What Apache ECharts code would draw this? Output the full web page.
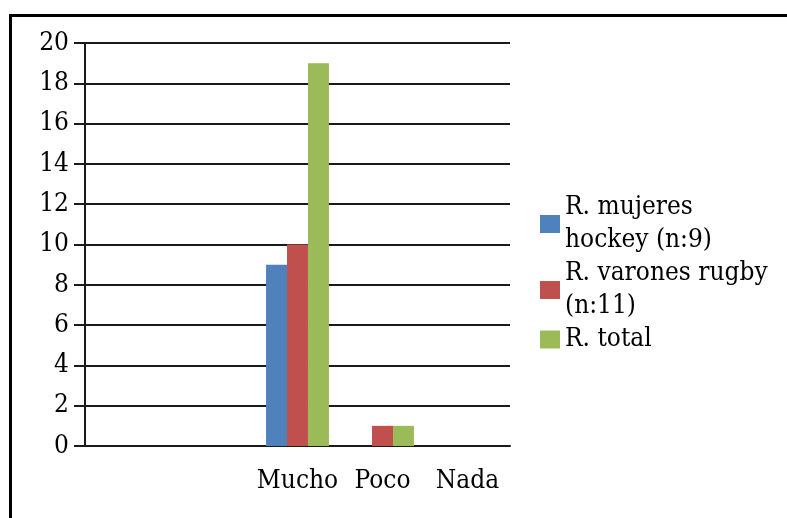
<!DOCTYPE html>
<html style="height: 100%">
<head>
    <meta charset="utf-8">
</head>
<body style="height: 100%; margin: 0; background: #fff">
<div id="container" style="width: 787px; height: 518px"></div>
<script type="text/javascript" src="https://cdn.jsdelivr.net/npm/echarts@6/dist/echarts.min.js"></script>
<script type="text/javascript">
    var categories = ['', '', 'Mucho', 'Poco', 'Nada'];
    var seriesNames = ['R. mujeres\nhockey (n:9)', 'R. varones rugby\n(n:11)', 'R. total'];
    var mujeres = [0, 0, 9, 0, 0];
    var varones = [0, 0, 10, 1, 0];
    var total = [0, 0, 19, 1, 0];
    var colors = ['#4F81BD', '#C0504D', '#9BBB59'];

    var font = '"DejaVu Serif Condensed", "DejaVu Serif", serif';
    var fontSize = 26;
    var lineColor = '#1a1a1a';

    var myChart = echarts.init(document.getElementById('container'));

    var option = {
        animation: false,
        color: colors,
        textStyle: { fontFamily: font },
        graphic: [{
            type: 'polyline',
            shape: { points: [[10.5, 518], [10.5, 15.5], [787, 15.5]] },
            style: { stroke: '#000', lineWidth: 3, fill: null }
        }],
        grid: { left: 85, right: 277, top: 43, bottom: 72 },
        legend: {
            orient: 'vertical',
            left: 535,
            top: 186,
            itemWidth: 20,
            itemHeight: 18,
            itemGap: 0,
            icon: 'rect',
            textStyle: { fontFamily: font, fontSize: fontSize, color: '#000', lineHeight: 33 },
            data: seriesNames
        },
        xAxis: {
            type: 'category',
            data: categories,
            axisLine: { lineStyle: { color: lineColor, width: 2 } },
            axisTick: { length: 12, lineStyle: { color: lineColor, width: 2 } },
            axisLabel: { interval: 0, fontFamily: font, fontSize: fontSize, color: '#000', margin: 22 }
        },
        yAxis: {
            type: 'value',
            min: 0,
            max: 20,
            interval: 2,
            axisLine: { show: true, lineStyle: { color: lineColor, width: 2 } },
            axisTick: { show: true, length: 11, lineStyle: { color: lineColor, width: 2 } },
            axisLabel: { fontFamily: font, fontSize: fontSize, color: '#000', margin: 16 },
            splitLine: { lineStyle: { color: lineColor, width: 2 } }
        },
        series: [
            { name: seriesNames[0], type: 'bar', data: mujeres, barGap: 0, barCategoryGap: '26%' },
            { name: seriesNames[1], type: 'bar', data: varones, barGap: 0, barCategoryGap: '26%' },
            { name: seriesNames[2], type: 'bar', data: total, barGap: 0, barCategoryGap: '26%' }
        ]
    };

    myChart.setOption(option, true);
</script>
</body>
</html>
